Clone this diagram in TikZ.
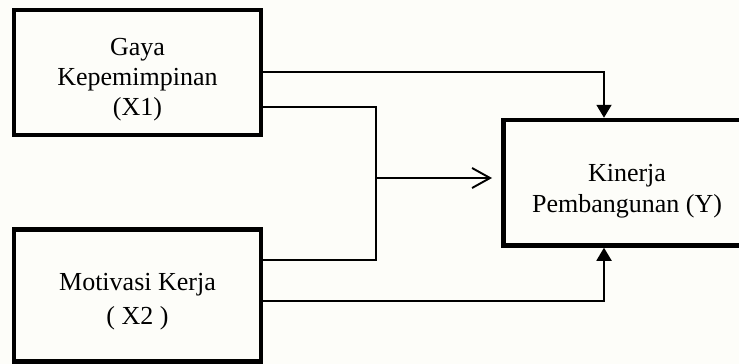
\documentclass[tikz,border=0pt]{standalone}
\usepackage{fontspec}
\setmainfont{Liberation Serif}
\usetikzlibrary{arrows.meta}
\definecolor{bgcol}{RGB}{253,253,249}
\begin{document}
\begin{tikzpicture}[x=1pt,y=-1pt,
  box/.style={draw=black,line width=4.5pt,inner sep=0pt},
  lbl/.style={font=\fontsize{26}{30}\selectfont,align=center,inner sep=0pt},
  conn/.style={draw=black,line width=1.9pt},
  solidtip/.style={-{Triangle[length=13pt,width=15pt]}},
  opentip/.style={-{Straight Barb[length=18pt,width=20pt,line width=1.9pt]}}]
\useasboundingbox (0,0) rectangle (739,364);
\fill[bgcol] (0,0) rectangle (739,364);
\begin{scope}
\clip (0,0) rectangle (739,364);
% boxes
\node[box,minimum width=247pt,minimum height=125pt] (x1) at (137.5,72.5) {};
\node[box,minimum width=247pt,minimum height=132pt] (x2) at (137.5,295.5) {};
\node[box,minimum width=250pt,minimum height=125.5pt] (y) at (628.5,182.75) {};
% labels
\node[lbl] (t1) at (137.5,80) {Gaya\\Kepemimpinan\\(X1)};
\node[lbl,font=\fontsize{26}{34}\selectfont] (t2) at (137.5,302) {Motivasi Kerja\\( X2 )};
\node[lbl,font=\fontsize{26}{31}\selectfont] (t3) at (627,191) {Kinerja\\Pembangunan (Y)};
% junction coordinates
\coordinate (j1) at (604,72);
\coordinate (j2a) at (376,107);
\coordinate (j2b) at (376,260);
\coordinate (jm) at (376,178);
\coordinate (j3) at (604,301);
\coordinate (tipm) at (492,178);
\end{scope}
% connectors
\draw[conn,solidtip] (x1.east |- j1) -- (j1) -- (j1 |- y.north);
\draw[conn] (x1.east |- j2a) -- (j2a) -- (j2b) -- (x2.east |- j2b);
\draw[conn,opentip] (jm) -- (tipm);
\draw[conn,solidtip] (x2.east |- j3) -- (j3) -- (j3 |- y.south);
\end{tikzpicture}
\end{document}
